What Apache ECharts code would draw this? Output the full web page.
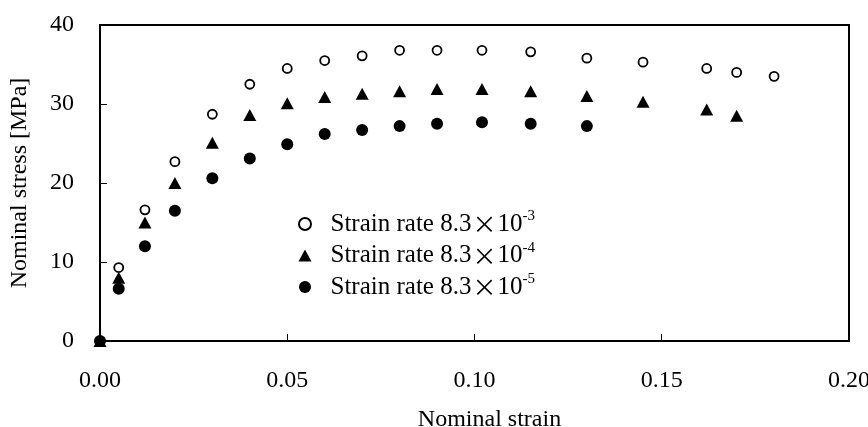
<!DOCTYPE html>
<html>
<head>
<meta charset="utf-8">
<script src="https://cdn.jsdelivr.net/npm/echarts@6/dist/echarts.min.js"></script>
<style>
  html, body { margin: 0; padding: 0; background: #fff; }
  #chart { width: 868px; height: 427px; }
</style>
</head>
<body>
<div id="chart"></div>
<script>
// Nominal strain sample points (shared by the three tests, longer runs go further)
const strain = [0, 0.005, 0.012, 0.02, 0.03, 0.04, 0.05, 0.06, 0.07, 0.08, 0.09, 0.102, 0.115, 0.13, 0.145, 0.162, 0.17, 0.18];

// Nominal stress [MPa] for each strain rate
const stressRate3 = [0, 9.3, 16.6, 22.7, 28.7, 32.5, 34.5, 35.5, 36.1, 36.8, 36.8, 36.8, 36.6, 35.8, 35.3, 34.5, 34.0, 33.5];
const stressRate4 = [0, 8.0, 15.0, 20.0, 25.1, 28.6, 30.1, 30.9, 31.3, 31.6, 31.9, 31.9, 31.6, 31.0, 30.3, 29.3, 28.5];
const stressRate5 = [0, 6.6, 12.0, 16.5, 20.6, 23.1, 24.9, 26.2, 26.7, 27.2, 27.5, 27.7, 27.5, 27.2];

// Legend exponents and series names
const rateExponents = ['-3', '-4', '-5'];
const seriesNames = ['Strain rate 8.3×10-3', 'Strain rate 8.3×10-4', 'Strain rate 8.3×10-5'];

// Axis ticks
const xTicks = [0, 0.05, 0.10, 0.15, 0.20];
const yTicks = [0, 10, 20, 30, 40];

const serif = '"Liberation Serif", "Times New Roman", serif';

function pairs(xs, ys) {
  return ys.map((y, i) => [xs[i], y]);
}

const chart = echarts.init(document.getElementById('chart'), null, { renderer: 'canvas' });

chart.setOption({
  backgroundColor: '#ffffff',
  animation: false,
  grid: {
    left: 100, top: 25, right: 19, bottom: 86,
    outerBoundsMode: 'none',
    containLabel: false,
    show: true, borderColor: '#000', borderWidth: 2, backgroundColor: 'transparent'
  },
  xAxis: {
    type: 'value',
    min: xTicks[0], max: xTicks[xTicks.length - 1], interval: 0.05,
    name: 'Nominal strain',
    nameLocation: 'middle',
    nameGap: 67,
    nameTextStyle: { fontFamily: serif, fontSize: 24, color: '#000', padding: [0, 0, 0, 30] },
    axisLine: { lineStyle: { color: '#000', width: 2 } },
    axisTick: { inside: true, length: 7, lineStyle: { color: '#000', width: 1 } },
    splitLine: { show: false },
    axisLabel: {
      margin: 28, fontFamily: serif, fontSize: 24, color: '#000',
      formatter: v => v.toFixed(2)
    }
  },
  yAxis: {
    type: 'value',
    min: yTicks[0], max: yTicks[yTicks.length - 1], interval: 10,
    name: 'Nominal stress [MPa]',
    nameLocation: 'middle',
    nameGap: 68,
    nameTextStyle: { fontFamily: serif, fontSize: 24, color: '#000' },
    axisLine: { lineStyle: { color: '#000', width: 2 } },
    axisTick: { inside: true, length: 7, lineStyle: { color: '#000', width: 1 } },
    splitLine: { show: false },
    axisLabel: { margin: 26, fontFamily: serif, fontSize: 24, color: '#000' }
  },
  legend: {
    orient: 'vertical',
    left: 293, top: 204,
    itemWidth: 13, itemHeight: 12,
    itemGap: 4,
    selectedMode: false,
    data: seriesNames,
    formatter: name => {
      const i = seriesNames.indexOf(name);
      return '{t|Strain rate 8.3}{x|×}{t|10}{s|' + rateExponents[i] + '}';
    },
    textStyle: {
      padding: [0, 0, 0, 14],
      rich: {
        t: { fontFamily: serif, fontSize: 25, color: '#000', lineHeight: 30 },
        x: { fontFamily: '"Noto Sans CJK JP", sans-serif', fontSize: 24, color: '#000', lineHeight: 30, padding: [0, 1] },
        s: { fontFamily: serif, fontSize: 15, color: '#000', lineHeight: 30, verticalAlign: 'top', padding: [0, 0, 12, 0] }
      }
    }
  },
  series: [
    {
      name: seriesNames[0], type: 'scatter',
      data: pairs(strain, stressRate3),
      symbol: 'circle', symbolSize: 9, clip: false,
      itemStyle: { color: '#fff', borderColor: '#000', borderWidth: 1.8, opacity: 1 }
    },
    {
      name: seriesNames[1], type: 'scatter',
      data: pairs(strain, stressRate4),
      symbol: 'triangle', symbolSize: [13, 12], clip: false, z: 3,
      itemStyle: { color: '#000', opacity: 1 }
    },
    {
      name: seriesNames[2], type: 'scatter',
      data: pairs(strain, stressRate5),
      symbol: 'circle', symbolSize: 12, clip: false,
      itemStyle: { color: '#000', opacity: 1 }
    }
  ]
});
</script>
</body>
</html>
